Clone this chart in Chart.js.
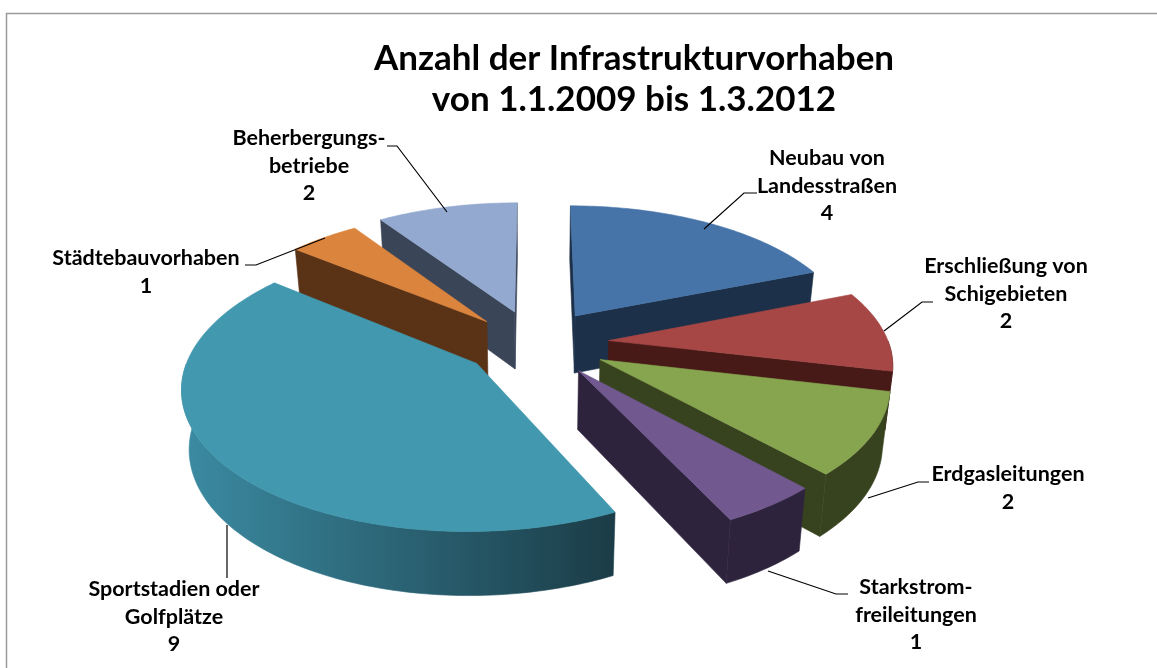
<!DOCTYPE html>
<html><head><meta charset="utf-8">
<script src="https://cdn.jsdelivr.net/npm/chart.js@4"></script>
<style>html,body{margin:0;padding:0;background:#fff}#w{position:relative;width:1157px;height:668px}</style>
</head><body><div id="w"><canvas id="c" width="1157" height="668"></canvas></div>
<script>
const categories=["Neubau von Landesstraßen","Erschließung von Schigebieten","Erdgasleitungen","Starkstrom-freileitungen","Sportstadien oder Golfplätze","Städtebauvorhaben","Beherbergungs-betriebe"];
const counts=[4,2,2,1,9,1,2];
const titleLines=["Anzahl der Infrastrukturvorhaben","von 1.1.2009 bis 1.3.2012"];
const topColors=["#4674A8","#A64645","#87A44F","#71588F","#4198AF","#DB843D","#93A9CF"];
const wallColors=["#1C3049","#471A18","#37431F","#2E233C","#3B8BA2","#5A3317","#3B4558"];
const wallEndColors=["#1C3049","#471A18","#37431F","#2E233C","#1B3C47","#5A3317","#3B4558"];
const explode=[68,68,68,68,64,68,68];
const nudgeX=[3,6,5,4,-7,-3,-1];
const nudgeY=[-5,-4,-4,-4,-3,-2,-5];
const radiusScale=[1,1,1,1,1.015,1,1];
const drawOrder=[0,6,5,1,2,4,3];
const labelLines=[["Neubau von","Landesstraßen","4"],["Erschließung von","Schigebieten","2"],["Erdgasleitungen","2"],["Starkstrom-","freileitungen","1"],["Sportstadien oder","Golfplätze","9"],["Städtebauvorhaben","1"],["Beherbergungs-","betriebe","2"]];
const labelAnchors=[[827,158],[1006,266],[1008,474],[916,587],[174,589],[146,258],[309,138]];
const leaders=[[[757,193],[744,193],[704,229]],[[933,302],[922,302],[884,331]],[[929,482],[918,482],[868,498]],[[848,594],[836,594],[768,571]],[[227,578],[227,525]],[[245,265],[256,265],[325,238]],[[387,146],[397,146],[447,212]]];
const view={cx:535,cy:347,R:280,k:0.478,p:0.15,depth:58,shrink:0.978};

function project(a,e,r,z,i){
  const U=(e*Math.cos(a.mid)+r*Math.cos(a.ang))/view.R, V=-(e*Math.sin(a.mid)+r*Math.sin(a.ang))/view.R;
  const s=1/(1+view.p*V);
  let x=view.cx+view.R*U*s, y=view.cy-view.R*view.k*V*s;
  if(z){y+=view.depth*(0.5+0.5*s); x=view.cx+(x-view.cx)*view.shrink;}
  return [x+nudgeX[i],y+nudgeY[i]];
}
function area(p){let a=0;p.forEach((q,j)=>{const n=p[(j+1)%p.length];a+=q[0]*n[1]-n[0]*q[1];});return a;}
const pie3d={id:'pie3d',
  beforeDatasetDraw(chart,args){
    const ctx=chart.ctx, meta=chart.getDatasetMeta(args.index);
    drawOrder.forEach(i=>{
      const el=meta.data[i], o=el.options, e=o.offset, st=el.startAngle, en=el.endAngle, mid=(st+en)/2, R=view.R*radiusScale[i];
      const pt=(ang,r,z)=>project({mid,ang},e,r,z,i);
      const n=Math.max(8,Math.ceil((en-st)/0.02)), arcA=[];
      for(let j=0;j<=n;j++)arcA.push(st+(en-st)*j/n);
      const poly=(pts,fill)=>{ctx.beginPath();pts.forEach((q,j)=>j?ctx.lineTo(q[0],q[1]):ctx.moveTo(q[0],q[1]));ctx.closePath();ctx.fillStyle=fill;ctx.strokeStyle=fill;ctx.lineWidth=0.6;ctx.fill();ctx.stroke();};
      const fs=[pt(st,0,0),pt(st,R,0),pt(st,R,1),pt(st,0,1)], fe=[pt(en,0,0),pt(en,R,0),pt(en,R,1),pt(en,0,1)];
      if(area(fs)<0)poly(fs,wallEndColors[i]);
      if(area(fe)>0)poly(fe,wallColors[i]);
      const front=arcA.filter(a=>Math.sin(a)>0);
      if(front.length>1){
        const xs=arcA.map(a=>pt(a,R,0)[0]), x0=Math.min(...xs), x1=Math.max(...xs);
        const g=ctx.createLinearGradient(x0,0,x1,0);
        g.addColorStop(0,wallColors[i]);g.addColorStop(1,wallEndColors[i]);
        poly(front.map(a=>pt(a,R,0)).concat(front.slice().reverse().map(a=>pt(a,R,1))),g);
      }
      poly([pt(st,0,0)].concat(arcA.map(a=>pt(a,R,0))),o.backgroundColor);
    });
    return false;
  },
  afterDraw(chart){
    const ctx=chart.ctx;
    ctx.save();
    ctx.strokeStyle='#9a9a9a';ctx.lineWidth=1.5;
    ctx.beginPath();ctx.moveTo(6.5,668);ctx.lineTo(6.5,13.5);ctx.lineTo(1157,13.5);ctx.stroke();
    ctx.strokeStyle='#000';ctx.lineWidth=1.2;
    leaders.forEach(l=>{ctx.beginPath();l.forEach((q,j)=>j?ctx.lineTo(q[0],q[1]):ctx.moveTo(q[0],q[1]));ctx.stroke();});
    ctx.fillStyle='#000';ctx.font='bold 21.5px Lato';ctx.textAlign='center';ctx.textBaseline='middle';
    labelLines.forEach((ls,i)=>ls.forEach((t,j)=>ctx.fillText(t,labelAnchors[i][0],labelAnchors[i][1]+j*27.7)));
    ctx.restore();
  }
};
new Chart(document.getElementById('c'),{
  type:'pie',
  data:{labels:categories,datasets:[{data:counts,backgroundColor:topColors,offset:explode,borderWidth:0}]},
  options:{responsive:false,animation:false,
    layout:{padding:{left:111,top:0,bottom:60}},
    plugins:{legend:{display:false},tooltip:{enabled:false},
      title:{display:true,text:titleLines,color:'#000',font:{family:'Lato',size:35,weight:'bold',lineHeight:1.18},padding:{top:38,bottom:6}}}
  },
  plugins:[pie3d]
});
</script></body></html>
